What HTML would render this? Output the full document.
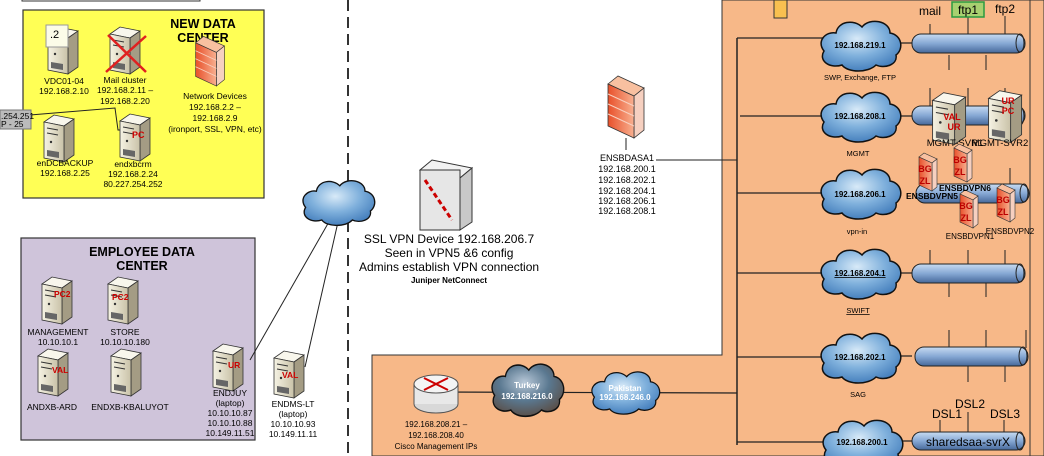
<!DOCTYPE html>
<html><head><meta charset="utf-8"><style>
html,body{margin:0;padding:0;background:#fff;}
svg{display:block;font-family:"Liberation Sans",Arial,sans-serif;}
</style></head><body>
<svg width="1044" height="456" viewBox="0 0 1044 456" xmlns="http://www.w3.org/2000/svg">
<defs>
<radialGradient id="cg" cx="45%" cy="35%" r="70%"><stop offset="0" stop-color="#d8eaf8"/><stop offset="0.5" stop-color="#7fb0dc"/><stop offset="1" stop-color="#3d78b8"/></radialGradient>
<radialGradient id="cgd" cx="45%" cy="35%" r="70%"><stop offset="0" stop-color="#b8c8d8"/><stop offset="0.5" stop-color="#5a7890"/><stop offset="1" stop-color="#5a4a40"/></radialGradient>
<linearGradient id="pg" x1="0" y1="0" x2="0" y2="1"><stop offset="0" stop-color="#c8dcf2"/><stop offset="0.5" stop-color="#86a8d4"/><stop offset="1" stop-color="#46689a"/></linearGradient>
<linearGradient id="sg" x1="0" y1="0" x2="1" y2="0"><stop offset="0" stop-color="#f6f3e4"/><stop offset="1" stop-color="#c9c2a8"/></linearGradient>
<linearGradient id="fg" x1="0" y1="0" x2="1" y2="0"><stop offset="0" stop-color="#e8502a"/><stop offset="1" stop-color="#f8b090"/></linearGradient>
<g id="cloud">
<path d="M-36,6 C-44,-4 -34,-14 -24,-12 C-22,-24 -6,-26 2,-18 C10,-28 30,-24 30,-12 C42,-10 44,4 36,10 C38,20 24,24 16,20 C8,28 -12,28 -18,20 C-30,24 -42,16 -36,6 Z" fill="url(#cg)" stroke="#111" stroke-width="1.5"/>
</g>
<g id="cloudd">
<path d="M-36,6 C-44,-4 -34,-14 -24,-12 C-22,-24 -6,-26 2,-18 C10,-28 30,-24 30,-12 C42,-10 44,4 36,10 C38,20 24,24 16,20 C8,28 -12,28 -18,20 C-30,24 -42,16 -36,6 Z" fill="url(#cgd)" stroke="#111" stroke-width="1.5"/>
</g>
<g id="srv">
<path d="M-14,-16 L-4,-23 L16,-19 L6,-12 Z" fill="#f8f6ec" stroke="#333" stroke-width="0.8"/>
<path d="M6,-12 L16,-19 L16,17 L6,24 Z" fill="#a49c84" stroke="#333" stroke-width="0.8"/>
<path d="M-14,-16 L6,-12 L6,24 L-14,20 Z" fill="url(#sg)" stroke="#333" stroke-width="0.8"/>
<line x1="-11" y1="-10" x2="0" y2="-8" stroke="#333"/><line x1="-11" y1="-5" x2="0" y2="-3" stroke="#333"/>
<circle cx="-7" cy="4" r="1.2" fill="#333"/>
<path d="M-11,12 L1,14 L1,20 L-11,18 Z" fill="#666"/>
</g>
<g id="fw">
<path d="M-18,-24 L-8,-32 L18,-20 L8,-12 Z" fill="#f8c0a0" stroke="#333" stroke-width="0.8"/>
<path d="M8,-12 L18,-20 L18,22 L8,30 Z" fill="#f6d0c0" stroke="#333" stroke-width="0.8"/>
<path d="M-18,-24 L8,-12 L8,30 L-18,18 Z" fill="url(#fg)" stroke="#333" stroke-width="0.8"/>
<path d="M-18,-14 L8,-2 M-18,-4 L8,8 M-18,6 L8,18" stroke="#f8d0c0" stroke-width="1"/>
</g>
<g id="bfw">
<path d="M-9,-16 L-4,-20 L9,-14 L4,-10 Z" fill="#f8c0a0" stroke="#333" stroke-width="0.6"/>
<path d="M4,-10 L9,-14 L9,14 L4,18 Z" fill="#f6d0c0" stroke="#333" stroke-width="0.6"/>
<path d="M-9,-16 L4,-10 L4,18 L-9,12 Z" fill="url(#fg)" stroke="#333" stroke-width="0.6"/>
<text x="-3" y="-1" font-size="9" font-weight="bold" fill="#b00" text-anchor="middle">BG</text>
<text x="-3" y="11" font-size="9" font-weight="bold" fill="#b00" text-anchor="middle">ZL</text>
</g>
</defs>

<path d="M22,0 L22,1 L200,1 L200,0" fill="#fff" stroke="#333"/>

<!-- yellow box -->
<rect x="23" y="10" width="241" height="188" fill="#ffff55" stroke="#333" stroke-width="1.2"/>
<text x="203" y="28" font-size="12.5" font-weight="bold" text-anchor="middle">NEW DATA</text>
<text x="203" y="42" font-size="12.5" font-weight="bold" text-anchor="middle">CENTER</text>
<use href="#srv" x="62" y="50"/>
<rect x="46" y="25" width="22" height="22" fill="#fcfce8" stroke="#999"/>
<text x="50" y="38" font-size="11">.2</text>
<text x="64" y="84" font-size="8.5" text-anchor="middle">VDC01-04</text>
<text x="64" y="94" font-size="8.5" text-anchor="middle">192.168.2.10</text>
<use href="#srv" x="124" y="50"/>
<line x1="108" y1="35" x2="146" y2="72" stroke="#e02020" stroke-width="2.5"/>
<line x1="146" y1="36" x2="106" y2="72" stroke="#e02020" stroke-width="2.5"/>
<text x="125" y="83" font-size="8.5" text-anchor="middle">Mail cluster</text>
<text x="125" y="93" font-size="8.5" text-anchor="middle">192.168.2.11 –</text>
<text x="125" y="104" font-size="8.5" text-anchor="middle">192.168.2.20</text>
<use href="#fw" x="210" y="62" transform="translate(210,62) scale(0.8) translate(-210,-62)"/>
<text x="215" y="99" font-size="8.5" text-anchor="middle">Network Devices</text>
<text x="215" y="110" font-size="8.5" text-anchor="middle">192.168.2.2 –</text>
<text x="215" y="121" font-size="8.5" text-anchor="middle">192.168.2.9</text>
<text x="215" y="132" font-size="8.5" text-anchor="middle">(ironport, SSL, VPN, etc)</text>
<polyline points="30,115 115,108 118,130 124,130" fill="none" stroke="#222"/>
<rect x="0" y="110" width="31" height="19" fill="#bbb" stroke="#777"/>
<text x="1" y="119" font-size="8.5">.254.251</text>
<text x="1" y="127" font-size="8.5">P - 25</text>
<use href="#srv" x="58" y="138"/>
<text x="65" y="166" font-size="8.5" text-anchor="middle">enDCBACKUP</text>
<text x="65" y="176" font-size="8.5" text-anchor="middle">192.168.2.25</text>
<use href="#srv" x="134" y="137"/>
<text x="132" y="138" font-size="9" font-weight="bold" fill="#c00">PC</text>
<text x="133" y="167" font-size="8.5" text-anchor="middle">endxbcrm</text>
<text x="133" y="177" font-size="8.5" text-anchor="middle">192.168.2.24</text>
<text x="133" y="187" font-size="8.5" text-anchor="middle">80.227.254.252</text>

<!-- purple box -->
<rect x="21" y="238" width="234" height="202" fill="#cfc4da" stroke="#333" stroke-width="1.2"/>
<text x="142" y="256" font-size="12.5" font-weight="bold" text-anchor="middle">EMPLOYEE DATA</text>
<text x="142" y="270" font-size="12.5" font-weight="bold" text-anchor="middle">CENTER</text>
<use href="#srv" x="56" y="300"/><text x="54" y="297" font-size="8.5" font-weight="bold" fill="#c00">PC2</text>
<text x="58" y="335" font-size="8.5" text-anchor="middle">MANAGEMENT</text>
<text x="58" y="345" font-size="8.5" text-anchor="middle">10.10.10.1</text>
<use href="#srv" x="122" y="300"/><text x="112" y="300" font-size="8.5" font-weight="bold" fill="#c00">PC2</text>
<text x="125" y="335" font-size="8.5" text-anchor="middle">STORE</text>
<text x="125" y="345" font-size="8.5" text-anchor="middle">10.10.10.180</text>
<use href="#srv" x="52" y="372"/><text x="52" y="373" font-size="8.5" font-weight="bold" fill="#c00">VAL</text>
<text x="52" y="410" font-size="8.5" text-anchor="middle">ANDXB-ARD</text>
<use href="#srv" x="125" y="372"/>
<text x="130" y="410" font-size="8.5" text-anchor="middle">ENDXB-KBALUYOT</text>
<use href="#srv" x="227" y="367"/><text x="228" y="368" font-size="8.5" font-weight="bold" fill="#c00">UR</text>
<text x="230" y="396" font-size="8.5" text-anchor="middle">ENDJUY</text>
<text x="230" y="406" font-size="8.5" text-anchor="middle">(laptop)</text>
<text x="230" y="416" font-size="8.5" text-anchor="middle">10.10.10.87</text>
<text x="230" y="426" font-size="8.5" text-anchor="middle">10.10.10.88</text>
<text x="230" y="436" font-size="8.5" text-anchor="middle">10.149.11.51</text>
<use href="#srv" x="288" y="374"/><text x="282" y="378" font-size="8.5" font-weight="bold" fill="#c00">VAL</text>
<text x="293" y="407" font-size="8.5" text-anchor="middle">ENDMS-LT</text>
<text x="293" y="417" font-size="8.5" text-anchor="middle">(laptop)</text>
<text x="293" y="427" font-size="8.5" text-anchor="middle">10.10.10.93</text>
<text x="293" y="437" font-size="8.5" text-anchor="middle">10.149.11.11</text>
<line x1="250" y1="360" x2="330" y2="220" stroke="#222"/>
<line x1="305" y1="367" x2="338" y2="222" stroke="#222"/>

<line x1="348" y1="0" x2="348" y2="456" stroke="#333" stroke-width="2" stroke-dasharray="11,6"/>

<!-- orange region -->
<path d="M722,0 L1044,0 L1044,456 L372,456 L372,355 L722,355 Z" fill="#f7b888" stroke="#333"/>
<line x1="1030" y1="0" x2="1030" y2="456" stroke="#333"/>
<rect x="774" y="0" width="13" height="18" fill="#f8c050" stroke="#333"/>
<line x1="737" y1="38" x2="737" y2="445" stroke="#222" stroke-width="1.5"/>

<use href="#cloud" x="338" y="202" transform="translate(338,202) scale(0.9) translate(-338,-202)"/>
<path d="M420,170 L432,160 L472,168 L460,178 Z" fill="#f2f2f2" stroke="#333"/>
<path d="M460,178 L472,168 L472,222 L460,230 Z" fill="#c8c8c8" stroke="#333"/>
<rect x="420" y="170" width="40" height="60" fill="#e6e6e6" stroke="#333"/>
<line x1="425" y1="180" x2="452" y2="220" stroke="#c00" stroke-width="3" stroke-dasharray="5,3"/>
<text x="449" y="243" font-size="12" text-anchor="middle">SSL VPN Device 192.168.206.7</text>
<text x="449" y="257" font-size="12" text-anchor="middle">Seen in VPN5 &amp;6 config</text>
<text x="449" y="271" font-size="12" text-anchor="middle">Admins establish VPN connection</text>
<text x="449" y="283" font-size="8" font-weight="bold" text-anchor="middle">Juniper NetConnect</text>

<use href="#fw" x="626" y="108"/>
<line x1="626" y1="138" x2="626" y2="150" stroke="#222"/>
<line x1="656" y1="160" x2="737" y2="160" stroke="#222"/>
<g font-size="9" text-anchor="middle">
<text x="627" y="161">ENSBDASA1</text>
<text x="627" y="172">192.168.200.1</text>
<text x="627" y="183">192.168.202.1</text>
<text x="627" y="194">192.168.204.1</text>
<text x="627" y="204">192.168.206.1</text>
<text x="627" y="214">192.168.208.1</text>
</g>

<g stroke="#222" stroke-width="1.2">
<line x1="737" y1="38" x2="830" y2="38"/><line x1="895" y1="43" x2="912" y2="43"/>
<line x1="740" y1="116" x2="830" y2="116"/><line x1="895" y1="116" x2="912" y2="116"/>
<line x1="737" y1="193" x2="830" y2="193"/>
<line x1="737" y1="273" x2="830" y2="273"/><line x1="895" y1="273" x2="912" y2="273"/>
<line x1="737" y1="357" x2="830" y2="357"/><line x1="895" y1="356" x2="912" y2="356"/>
<line x1="737" y1="442" x2="830" y2="442"/><line x1="895" y1="441" x2="912" y2="441"/>
</g>
<g stroke="#222">
<line x1="930" y1="24" x2="930" y2="35"/><line x1="968" y1="16" x2="968" y2="35"/><line x1="1005" y1="16" x2="1005" y2="35"/>
<line x1="949" y1="55" x2="949" y2="70"/><line x1="986" y1="55" x2="986" y2="70"/>
<line x1="930" y1="88" x2="930" y2="108"/><line x1="968" y1="88" x2="968" y2="108"/><line x1="1005" y1="88" x2="1005" y2="108"/>
<line x1="930" y1="250" x2="930" y2="265"/><line x1="968" y1="250" x2="968" y2="265"/><line x1="1005" y1="250" x2="1005" y2="265"/>
<line x1="949" y1="282" x2="949" y2="297"/><line x1="986" y1="282" x2="986" y2="297"/>
<line x1="949" y1="330" x2="949" y2="348"/><line x1="986" y1="330" x2="986" y2="348"/><line x1="1026" y1="330" x2="1026" y2="348"/>
<line x1="968" y1="366" x2="968" y2="382"/><line x1="1005" y1="366" x2="1005" y2="382"/>
<line x1="940" y1="420" x2="940" y2="432"/><line x1="968" y1="412" x2="968" y2="432"/><line x1="1004" y1="420" x2="1004" y2="432"/>
<line x1="1010" y1="168" x2="1010" y2="185"/>
</g>
<g stroke="#222" stroke-width="1">
<rect x="912" y="34" width="113" height="19" rx="9" fill="url(#pg)"/>
<rect x="912" y="106" width="113" height="19" rx="9" fill="url(#pg)"/>
<rect x="916" y="184" width="113" height="19" rx="9" fill="url(#pg)"/>
<rect x="912" y="264" width="113" height="19" rx="9" fill="url(#pg)"/>
<rect x="915" y="347" width="113" height="19" rx="9" fill="url(#pg)"/>
<rect x="912" y="432" width="113" height="18" rx="9" fill="url(#pg)"/>
</g>
<g fill="none" stroke="#222"><ellipse cx="1020" cy="43" rx="4" ry="9"/><ellipse cx="1020" cy="116" rx="4" ry="9"/><ellipse cx="1024" cy="193" rx="4" ry="9"/><ellipse cx="1020" cy="273" rx="4" ry="9"/><ellipse cx="1023" cy="356" rx="4" ry="9"/><ellipse cx="1020" cy="441" rx="4" ry="9"/></g>
<text x="930" y="15" font-size="12" text-anchor="middle">mail</text>
<rect x="952" y="2" width="32" height="15" fill="#a8d070" stroke="#2a9a40" stroke-width="1.5"/>
<text x="968" y="14" font-size="12" text-anchor="middle">ftp1</text>
<text x="1005" y="13" font-size="12" text-anchor="middle">ftp2</text>
<text x="968" y="446" font-size="12" text-anchor="middle">sharedsaa-svrX</text>
<text x="947" y="418" font-size="12" text-anchor="middle">DSL1</text>
<text x="970" y="408" font-size="12" text-anchor="middle">DSL2</text>
<text x="1005" y="418" font-size="12" text-anchor="middle">DSL3</text>

<use href="#cloud" x="860" y="45"/><text x="860" y="48" font-size="8" font-weight="bold" text-anchor="middle">192.168.219.1</text>
<text x="860" y="80" font-size="7.5" text-anchor="middle">SWP, Exchange, FTP</text>
<use href="#cloud" x="860" y="116"/><text x="860" y="119" font-size="8" font-weight="bold" text-anchor="middle">192.168.208.1</text>
<text x="858" y="156" font-size="7.5" text-anchor="middle">MGMT</text>
<use href="#cloud" x="860" y="193"/><text x="860" y="197" font-size="8" font-weight="bold" text-anchor="middle">192.168.206.1</text>
<text x="857" y="234" font-size="7.5" text-anchor="middle">vpn-in</text>
<use href="#cloud" x="860" y="273"/><text x="860" y="276" font-size="8" font-weight="bold" text-anchor="middle" text-decoration="underline">192.168.204.1</text>
<text x="858" y="313" font-size="7.5" text-anchor="middle" text-decoration="underline">SWIFT</text>
<use href="#cloud" x="860" y="357"/><text x="860" y="360" font-size="8" font-weight="bold" text-anchor="middle">192.168.202.1</text>
<text x="858" y="397" font-size="7.5" text-anchor="middle">SAG</text>
<use href="#cloud" x="862" y="444"/><text x="862" y="445" font-size="8" font-weight="bold" text-anchor="middle">192.168.200.1</text>

<use href="#srv" x="948" y="118" transform="translate(948,118) scale(1.1) translate(-948,-118)"/>
<text x="952" y="120" font-size="9" font-weight="bold" fill="#c00" text-anchor="middle">VAL</text>
<text x="954" y="130" font-size="9" font-weight="bold" fill="#c00" text-anchor="middle">UR</text>
<use href="#srv" x="1004" y="116" transform="translate(1004,116) scale(1.1) translate(-1004,-116)"/>
<text x="1008" y="104" font-size="9" font-weight="bold" fill="#c00" text-anchor="middle">UR</text>
<text x="1008" y="114" font-size="9" font-weight="bold" fill="#c00" text-anchor="middle">PC</text>
<text x="955" y="146" font-size="9.5" text-anchor="middle">MGMT-SVR1</text>
<text x="1000" y="146" font-size="9.5" text-anchor="middle">MGMT-SVR2</text>

<use href="#bfw" x="928" y="173"/>
<use href="#bfw" x="963" y="164"/>
<use href="#bfw" x="969" y="210"/>
<use href="#bfw" x="1006" y="204"/>
<text x="965" y="191" font-size="8.5" font-weight="bold" text-anchor="middle">ENSBDVPN6</text>
<text x="932" y="199" font-size="8.5" font-weight="bold" text-anchor="middle">ENSBDVPN5</text>
<text x="1010" y="234" font-size="8" text-anchor="middle">ENSBDVPN2</text>
<text x="970" y="239" font-size="8" text-anchor="middle">ENSBDVPN1</text>

<line x1="435" y1="392" x2="737" y2="393" stroke="#222" stroke-width="1.2"/>
<ellipse cx="436" cy="404" rx="22" ry="9" fill="#d8d8d8" stroke="#555"/>
<rect x="414" y="384" width="44" height="20" fill="#e8e8e8" stroke="none"/>
<line x1="414" y1="384" x2="414" y2="404" stroke="#555"/><line x1="458" y1="384" x2="458" y2="404" stroke="#555"/>
<ellipse cx="436" cy="384" rx="22" ry="9" fill="#f4f4f4" stroke="#555"/>
<path d="M424,378 L448,390 M448,378 L424,390" stroke="#c00" stroke-width="2"/>
<use href="#cloudd" x="527" y="389" transform="translate(527,389) scale(0.9,1.05) translate(-527,-389)"/>
<text x="527" y="388" font-size="8" font-weight="bold" fill="#fff" text-anchor="middle">Turkey</text>
<text x="527" y="399" font-size="8" font-weight="bold" fill="#fff" text-anchor="middle">192.168.216.0</text>
<use href="#cloud" x="625" y="392" transform="translate(625,392) scale(0.85) translate(-625,-392)"/>
<text x="625" y="391" font-size="8" font-weight="bold" fill="#fff" text-anchor="middle">Pakistan</text>
<text x="625" y="400" font-size="8" font-weight="bold" fill="#fff" text-anchor="middle">192.168.246.0</text>
<text x="436" y="427" font-size="8" text-anchor="middle">192.168.208.21 –</text>
<text x="436" y="438" font-size="8" text-anchor="middle">192.168.208.40</text>
<text x="436" y="449" font-size="8" text-anchor="middle">Cisco Management IPs</text>
</svg>
</body></html>
